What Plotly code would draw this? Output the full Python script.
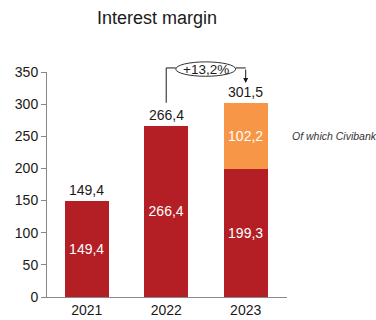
import plotly.graph_objects as go

# Interest margin by year (EUR m); 2023 includes the Civibank contribution
years = ["2021", "2022", "2023"]
core_margin = [149.4, 266.4, 199.3]
civibank = [None, None, 102.2]
y_ticks = [0, 50, 100, 150, 200, 250, 300, 350]

RED = "#B41F26"
ORANGE = "#F79646"
FONT = "Liberation Sans, Arial, sans-serif"

totals = [c + (v or 0) for c, v in zip(core_margin, civibank)]


def fmt(v):
    return f"{v:.1f}".replace(".", ",")


growth = (totals[2] / totals[1] - 1) * 100

fig = go.Figure()
fig.add_trace(go.Bar(
    x=years, y=core_margin, marker_color=RED, width=0.55,
    text=[fmt(v) for v in core_margin], textposition="inside",
    insidetextanchor="middle", textfont=dict(color="white", size=14, family=FONT),
    marker_line_width=0, hoverinfo="skip",
))
fig.add_trace(go.Bar(
    x=years, y=civibank, marker_color=ORANGE, width=0.55,
    text=[fmt(v) if v else "" for v in civibank], textposition="inside",
    insidetextanchor="middle", textfont=dict(color="white", size=14, family=FONT),
    marker_line_width=0, hoverinfo="skip",
))

# totals above each bar (category index positions)
for i, t in enumerate(totals):
    fig.add_annotation(x=i, xref="x", y=t, yref="y", text=fmt(t), showarrow=False,
                       xanchor="center", yanchor="bottom", yshift=1,
                       font=dict(size=14, color="#1a1a1a", family=FONT))

fig.add_annotation(x=1.0125, xref="paper", y=core_margin[2] + civibank[2] / 2, yref="y",
                   text="<i>Of which Civibank</i>", showarrow=False, xanchor="left",
                   yanchor="middle", font=dict(size=10.5, color="#333333", family=FONT))

# growth bracket 2022 -> 2023
ymax = 350
h_plot = 225
y_start = totals[1] / ymax + 23 / h_plot
y_top = 1.018
line = dict(color="#1a1a1a", width=1)
fig.add_shape(type="line", xref="x", yref="paper", x0=1, x1=1, y0=y_start, y1=y_top, line=line)
fig.add_shape(type="line", xref="x", yref="paper", x0=1, x1=1.12, y0=y_top, y1=y_top, line=line)
fig.add_shape(type="line", xref="x", yref="paper", x0=1.874, x1=2, y0=y_top, y1=y_top, line=line)
fig.add_shape(type="circle", xref="x", yref="paper", x0=1.12, x1=1.874, y0=0.981, y1=1.045,
              line=dict(color="#333333", width=1), fillcolor="white")
fig.add_annotation(x=2, xref="x", y=0.951, yref="paper", text="", showarrow=True,
                   ax=0, ay=-15, axref="pixel", ayref="pixel", arrowhead=2,
                   arrowsize=1, arrowwidth=1, arrowcolor="#1a1a1a")
fig.add_annotation(x=1.497, xref="x", y=1.013, yref="paper", xanchor="center",
                   yanchor="middle", text=f"+{growth:.1f}%".replace(".", ","),
                   showarrow=False, font=dict(size=13.5, color="#1a1a1a", family=FONT))

fig.update_layout(
    width=376, height=320,
    margin=dict(l=47, r=89, t=72, b=23),
    barmode="stack", showlegend=False,
    plot_bgcolor="white", paper_bgcolor="white",
    font=dict(family=FONT, size=14, color="#1a1a1a"),
    title=dict(text="Interest margin", x=157 / 376, xanchor="center", xref="container",
               y=1 - 18 / 320, yanchor="middle", yref="container",
               font=dict(size=18, color="#1a1a1a", family=FONT)),
)
fig.update_xaxes(type="category", range=[-0.5, 2.52], showline=True, linecolor="#888888",
                 linewidth=1, ticks="", tickfont=dict(size=14), showgrid=False,
                 automargin=False)
fig.update_yaxes(range=[0, ymax], tickvals=y_ticks, showline=True, linecolor="#888888",
                 linewidth=1, ticks="outside", ticklen=5, tickcolor="#888888",
                 showgrid=False, zeroline=False, tickfont=dict(size=14), automargin=False)

fig.write_html("out.html")
